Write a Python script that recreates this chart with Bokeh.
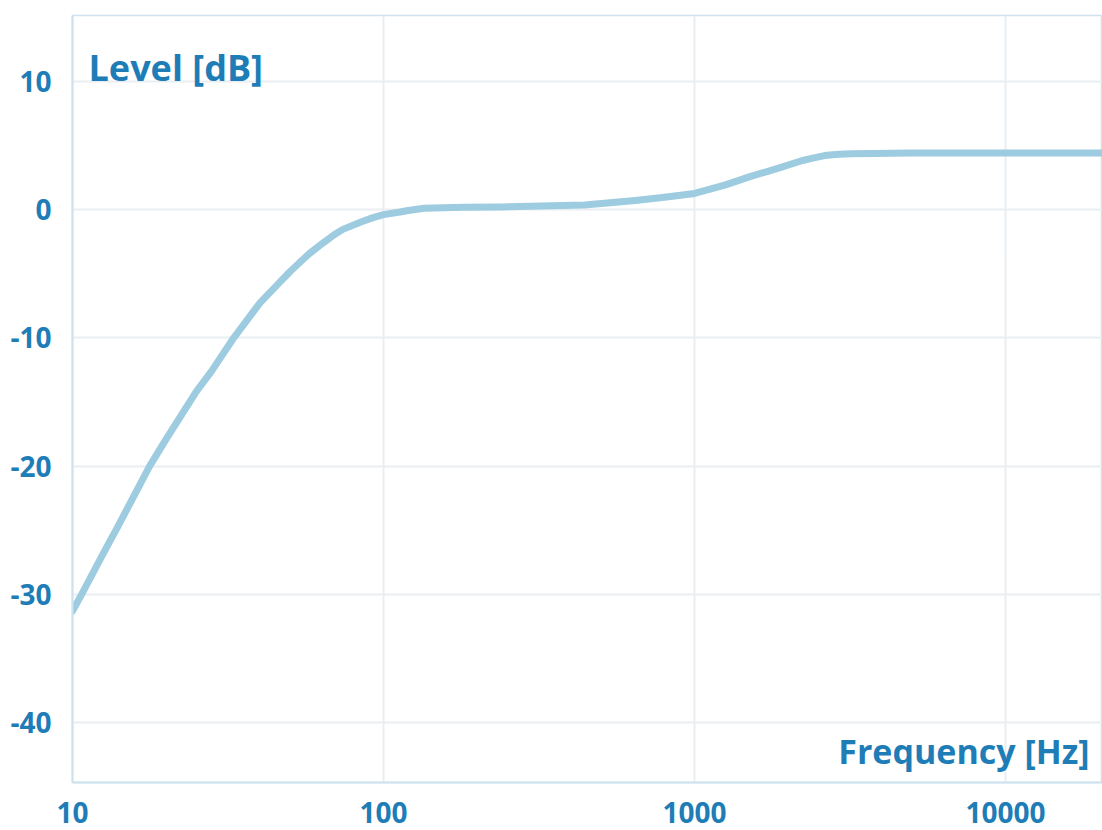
from bokeh.plotting import figure
from bokeh.models import Label, FixedTicker, Range1d, ColumnDataSource
from bokeh.embed import file_html
from bokeh.resources import INLINE

# --- data ---
freq = [10, 10.7, 12.5, 14, 17.7, 20, 25, 28, 33, 40, 45.6, 50, 54.5, 58, 64, 69.6, 74, 85, 92, 100,
        113, 120, 135, 180, 240, 443, 645, 800, 1000, 1250, 1525, 1850, 2210, 2400, 2620, 2900, 3200,
        5000, 10000, 20500]
level = [-31.3, -30.0, -26.9, -24.7, -20.0, -17.9, -14.2, -12.6, -10.0, -7.3, -5.85, -4.85, -4.0, -3.4,
         -2.6, -1.95, -1.55, -0.95, -0.65, -0.4, -0.2, -0.08, 0.1, 0.17, 0.2, 0.35, 0.7, 0.95, 1.25,
         1.9, 2.6, 3.2, 3.8, 4.0, 4.2, 4.3, 4.35, 4.4, 4.4, 4.4]
x_ticks = [10, 100, 1000, 10000]
y_ticks = [-40, -30, -20, -10, 0, 10]
x_title = "Frequency [Hz]"
y_title = "Level [dB]"

TEXT = "#1e7db7"
LINE = "#9dcbe0"
GRID = "#e9eef2"
AXIS = "#cde2ee"
FONT = "Open Sans"

p = figure(width=1102, height=830, x_axis_type="log",
           x_range=Range1d(10, 20500), y_range=Range1d(-44.66, 15.12),
           output_backend="svg", toolbar_location=None,
           min_border_left=72, min_border_right=0, min_border_top=15, min_border_bottom=48)

src = ColumnDataSource(dict(f=freq, l=level))
p.line("f", "l", source=src, line_color=LINE, line_width=7, line_cap="round", line_join="round")

for ax in (p.xaxis, p.yaxis):
    ax.axis_line_color = AXIS
    ax.axis_line_width = 2
    ax.major_tick_line_color = None
    ax.minor_tick_line_color = None
    ax.major_label_text_color = TEXT
    ax.major_label_text_font = FONT
    ax.major_label_text_font_style = "bold"
    ax.major_label_text_font_size = "28px"

p.xaxis.ticker = FixedTicker(ticks=x_ticks)
p.xaxis.major_label_overrides = {t: str(t) for t in x_ticks}
p.yaxis.ticker = FixedTicker(ticks=y_ticks)
p.yaxis.major_label_overrides = {t: str(t) for t in y_ticks}
p.xaxis.major_label_standoff = 13
p.yaxis.major_label_standoff = 15

p.xgrid.ticker = FixedTicker(ticks=x_ticks)
p.ygrid.ticker = FixedTicker(ticks=y_ticks)
p.xgrid.grid_line_color = GRID
p.ygrid.grid_line_color = GRID
p.xgrid.grid_line_width = 2
p.ygrid.grid_line_width = 2

p.outline_line_color = AXIS
p.outline_line_width = 1.5
p.background_fill_color = "white"
p.border_fill_color = "white"

p.add_layout(Label(x=11.26, y=11.07, text=y_title, text_color=TEXT, text_font=FONT,
                   text_font_style="bold", text_font_size="36px", text_baseline="alphabetic"))
p.add_layout(Label(x=18620, y=-42.17, text=x_title, text_color=TEXT, text_font=FONT,
                   text_font_style="bold", text_font_size="34px", text_baseline="alphabetic",
                   text_align="right"))

open("out.html", "w").write(file_html(p, INLINE))
